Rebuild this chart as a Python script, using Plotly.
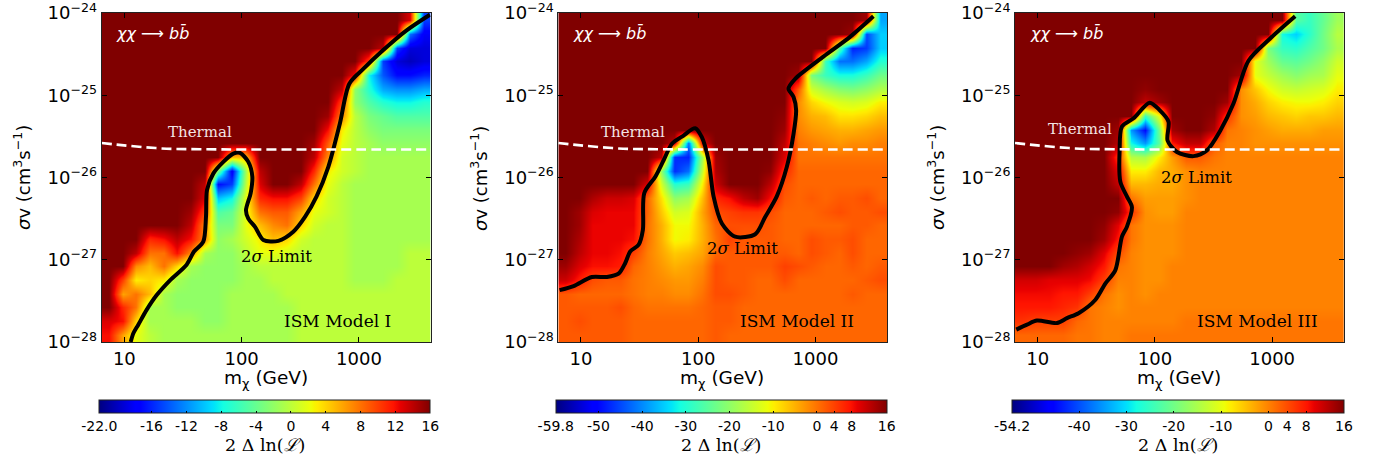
import numpy as np
import plotly.graph_objects as go

W, H = 1380, 461

log_mass = [.865,.982,1.099,1.215,1.332,1.449,1.566,1.683,1.799,1.916,2.033,2.150,
            2.267,2.383,2.500,2.617,2.734,2.851,2.967,3.084,3.201,3.318,3.435,3.551]
log_sv = [-24.08,-24.25,-24.42,-24.58,-24.75,-24.92,-25.08,-25.25,-25.42,-25.58,-25.75,-25.92,
          -26.08,-26.25,-26.42,-26.58,-26.75,-26.92,-27.08,-27.25,-27.42,-27.58,-27.75,-27.92]

z_model1 = [
 [16]*22+[13,-15],
 [16]*22+[-13,-18],
 [16]*20+[14,-15,-19,-19],
 [16]*19+[10,-15,-19,-20,-19],
 [16]*18+[12,-8,-14,-17,-17,-16],
 [16]*17+[14,-2,-7,-11,-12,-12,-11],
 [16]*17+[10,-2,-5,-7,-8,-8,-7],
 [16]*16+[15,7,0,-3,-4,-5,-5,-5],
 [16]*16+[12,3,0,-2,-3,-3,-3,-3],
 [16]*15+[15,9,2,0,-1,-2,-2,-2,-2],
 [16]*9+[5,5,16,16,16,16,14,7,1,0,-1,-1,-1,-1,-1],
 [16]*8+[-3,-18,-1,14,16,16,16,11,3,1,0,-1,-1,-1,-1,-1],
 [16]*7+[14,-17,-15,0,13,16,16,14,8,2,0,-1,-1,-1,-1,-1,-1],
 [16]*7+[13,-10,-8,2,11,12,12,10,4,1,0,-1,-1,-1,-1,-1,-1],
 [16]*6+[15,10,-5,-4,2,8,9,9,6,2,1,0,-1,-1,-1,-1,-1,-1],
 [16]*6+[14,7,-3,-3,2,5,7,8,4,1,0,0,-1,-1,-1,-1,-1,-1],
 [16,16,16,11,12,14,12,7,-2,-1,1,3,5,4,1,0,0,0,-1,-1,-1,-1,-1,-1],
 [16,16,14,8,8,12,7,-1,-2,-2,0,2,2,1,0,0,0,0,-1,-1,-1,-1,0,0],
 [16,16,7,5,8,4,-1,-2,-2,-2,-1,0,0,0,0,0,0,0,-1,-1,-1,-1,0,0],
 [16,10,3,4,3,-1,-2,-2,-2,-2,-1,-1,0,0,0,0,0,0,-1,-1,-1,0,0,0],
 [16,6,8,5,-1,-2,-2,-2,-2,-1,-1,-1,-1,0,0,0,0,0,0,0,0,0,0,0],
 [16,11,8,-1,-1,-2,-2,-2,-2,-1,-1,-1,-1,-1,0,0,0,0,0,0,0,0,0,0],
 [13,12,4,-1,-1,-1,-1,-2,-2,-1,-1,-1,-1,-1,0,0,0,0,0,0,0,0,0,0],
 [12,6,2,0,-1,-1,-1,-1,-1,-1,-1,-1,-1,-1,0,0,0,0,0,0,0,0,0,0],
]

z_model2 = [
 [16]*22+[14,-38],
 [16]*21+[14,-45,-35],
 [16]*20+[-25,-48,-46,-35],
 [16]*19+[-28,-42,-42,-38,-30],
 [16]*17+[14,-22,-28,-31,-31,-28,-23],
 [16]*17+[2,-14,-18,-21,-22,-20,-17],
 [16]*17+[-2,-8,-11,-13,-14,-13,-10],
 [16]*16+[15,-2,-5,-6,-9,-9,-8,-6],
 [16]*16+[14,-1,-3,-4,-5,-5,-4,-3],
 [16]*8+[12,-42,10,16,16,16,16,16,12,0,-1,-2,-3,-2,-2,-1],
 [16]*7+[12,-47,-48,-18,14,16,16,16,16,10,0,0,0,0,0,0,0],
 [16]*7+[-20,-47,-42,-15,13,16,16,16,15,6,1,1,1,1,1,1,1],
 [16]*6+[10,-14,-30,-28,-10,11,16,16,16,12,3,1,1,1,1,1,1,1],
 [16,16,13,11,11,10,1,-9,-20,-18,-6,6,8,12,14,8,2,1,2,1,2,2,3,1],
 [16,14,10,9,9,9,1,-7,-14,-13,-4,3,4,5,5,3,1,1,1,2,3,2,2,3],
 [16,14,9,9,9,9,0,-5,-11,-11,-5,1,3,3,3,2,1,1,1,1,1,2,2,1],
 [16,13,9,9,9,8,0,-5,-11,-10,-5,0,4,2,2,2,1,1,3,2,2,3,1,1],
 [16,12,9,9,8,4,-1,-4,-7,-6,-4,1,2,2,2,2,2,1,3,2,1,3,1,1],
 [14,10,8,8,7,1,-1,-3,-5,-4,-2,3,2,2,2,2,4,3,2,1,1,2,1,2],
 [11,7,3,2,2,0,-1,-2,-3,-3,-1,3,2,2,1,1,3,1,1,1,1,1,2,3],
 [2,1,1,1,1,0,-1,-1,-2,-2,0,3,3,2,1,1,1,1,1,1,1,2,1,1],
 [2,2,2,2,3,1,0,0,0,0,1,2,2,1,1,1,1,1,1,1,1,1,1,1],
 [2,3,2,2,2,1,1,1,1,1,1,2,2,1,1,1,1,1,1,1,1,1,1,1],
 [2,2,2,2,2,1,1,1,1,1,1,2,1,1,1,1,1,1,1,1,1,1,1,1],
]

z_model3 = [
 [16]*20+[-22,-25,-21,-16],
 [16]*19+[-28,-31,-26,-20,-14],
 [16]*18+[-19,-25,-26,-23,-20,-15],
 [16]*17+[-10,-16,-21,-22,-20,-17,-12],
 [16]*16+[14,-10,-13,-16,-18,-16,-15,-10],
 [16]*9+[15]+[16]*6+[-1,-5,-9,-12,-13,-12,-11,-8],
 [16]*9+[12,14,16,16,16,16,14,-1,-3,-6,-8,-9,-9,-8,-6],
 [16]*9+[-25,-10,16,16,16,15,6,-1,-2,-4,-5,-6,-5,-5,-4],
 [16]*7+[14,-35,-45,-20,14,16,16,13,1,0,-1,-2,-3,-3,-3,-2,-2],
 [16]*7+[13,-28,-35,-22,8,12,12,3,0,0,-1,-1,-1,-1,-1,-1,-1],
 [16]*7+[6,-14,-15,-8,-2,3,3,1,0,0,0,0,0,0,0,0,0],
 [16]*7+[10,-8,-8,-4,-3,-1,0,0,0,0,0,0,0,0,0,0,0],
 [16]*7+[12,-4,-4,-3,-3,-1,0,0,0,0,0,0,0,0,0,0,0],
 [16]*8+[1,-2,-2,-2,-1,0,0,0,0,0,0,0,0,0,0,0],
 [16]*7+[15,6,-1,-2,-2,0,0,0,0,0,0,0,0,0,0,0,0],
 [16]*6+[15,10,1,-1,-1,-1,0,0,0,0,0,0,0,0,0,0,0,0],
 [16]*6+[14,8,1,-1,-1,-1,0,0,0,0,0,0,0,0,0,0,0,0],
 [16,16,16,16,15,14,10,4,0,-1,-1,-1]+[0]*12,
 [16,16,16,14,13,11,8,1,0,-1,-1,0]+[0]*12,
 [11,11,10,10,10,9,5,0,0,-1,-1,0]+[0]*12,
 [9,9,9,8,8,5,1,-1,0,-1,0,0]+[0]*12,
 [8,8,8,7,6,1,0,-1,0,0,0,0]+[0]*12,
 [6,5,5,5,2,1,0,0,0,0,0,0]+[1]*12,
 [2,2,2,2,1,1,0,0,1,1,1,1]+[1]*12,
]

limit1_m = [1.054,1.077,1.119,1.19,1.276,1.389,1.531,1.594,1.673,1.696,1.705,1.759,1.844,1.929,1.986,2.057,2.091,2.077,2.037,2.057,2.114,2.185,2.313,2.44,2.54,2.639,2.739,2.838,2.918,3.037,3.207,3.406,3.605]
limit1_s = [-28.0,-27.895,-27.79,-27.61,-27.43,-27.25,-27.06,-26.90,-26.78,-26.48,-26.15,-25.95,-25.81,-25.71,-25.70,-25.81,-25.99,-26.19,-26.40,-26.50,-26.60,-26.76,-26.77,-26.66,-26.48,-26.23,-25.87,-25.34,-24.86,-24.68,-24.45,-24.21,-24.02]
limit2_m = [.818,.9375,1.094,1.222,1.321,1.378,1.42,1.491,1.528,1.54,1.634,1.705,1.776,1.875,1.974,2.031,2.088,2.131,2.202,2.315,2.486,2.571,2.67,2.756,2.813,2.835,2.813,2.77,2.827,3.068,3.295,3.494]
limit2_s = [-27.37,-27.32,-27.21,-27.21,-27.17,-27.04,-26.90,-26.82,-26.64,-26.19,-25.99,-25.79,-25.59,-25.49,-25.40,-25.51,-25.79,-26.23,-26.56,-26.72,-26.69,-26.48,-26.23,-25.87,-25.47,-25.18,-25.02,-24.92,-24.80,-24.53,-24.29,-24.04]
limit3_m = [.818,.909,.994,1.165,1.25,1.349,1.491,1.577,1.662,1.719,1.761,1.804,1.761,1.705,1.699,1.719,1.818,1.955,2.04,2.116,2.108,2.188,2.33,2.443,2.557,2.67,2.798,2.983,3.196]
limit3_s = [-27.85,-27.79,-27.74,-27.77,-27.71,-27.65,-27.49,-27.29,-27.13,-26.72,-26.60,-26.36,-26.23,-26.05,-25.67,-25.38,-25.28,-25.09,-25.18,-25.32,-25.55,-25.69,-25.74,-25.67,-25.43,-25.10,-24.58,-24.31,-24.04]

thermal_m = [.807,.93,1.08,1.36,1.65,2.0,2.5,3.0,3.61]
thermal_s = [-25.58,-25.60,-25.62,-25.65,-25.656,-25.66,-25.66,-25.66,-25.66]

x_ticks = [10, 100, 1000]
x_tick_labels = ["10", "100", "1000"]
y_ticks = [1e-28, 1e-27, 1e-26, 1e-25, 1e-24]
y_tick_labels = ["10<sup>−28</sup>", "10<sup>−27</sup>", "10<sup>−26</sup>", "10<sup>−25</sup>", "10<sup>−24</sup>"]

cb_ticks1 = [-22, -16, -12, -8, -4, 0, 4, 8, 12, 16]
cb_labels1 = ["-22.0", "-16", "-12", "-8", "-4", "0", "4", "8", "12", "16"]
cb_ticks2 = [-59.8, -50, -40, -30, -20, -10, 0, 4, 8, 16]
cb_labels2 = ["-59.8", "-50", "-40", "-30", "-20", "-10", "0", "4", "8", "16"]
cb_ticks3 = [-54.2, -40, -30, -20, -10, 0, 4, 8, 16]
cb_labels3 = ["-54.2", "-40", "-30", "-20", "-10", "0", "4", "8", "16"]
model_names = ["ISM Model I", "ISM Model II", "ISM Model III"]

JET = [[0, "rgb(0,0,128)"], [.11, "rgb(0,0,255)"], [.125, "rgb(0,0,255)"], [.34, "rgb(0,219,255)"],
       [.35, "rgb(0,230,247)"], [.375, "rgb(20,255,226)"], [.64, "rgb(238,255,8)"], [.65, "rgb(247,245,0)"],
       [.66, "rgb(255,236,0)"], [.89, "rgb(255,19,0)"], [.91, "rgb(232,0,0)"], [1, "rgb(128,0,0)"]]

panels = [
    dict(z=z_model1, zmin=-22, m=limit1_m, s=limit1_s, ticks=cb_ticks1, labels=cb_labels1,
         left=101.7, right=430.5, cb_left=99.3, ytitle=22, xmid=266,
         therm=(166, 132), lim=(239, 256), ism=282),
    dict(z=z_model2, zmin=-59.8, m=limit2_m, s=limit2_s, ticks=cb_ticks2, labels=cb_labels2,
         left=558.3, right=887, cb_left=555.7, ytitle=479, xmid=722,
         therm=(599, 132), lim=(705, 249), ism=738),
    dict(z=z_model3, zmin=-54.2, m=limit3_m, s=limit3_s, ticks=cb_ticks3, labels=cb_labels3,
         left=1015, right=1343.7, cb_left=1012, ytitle=936, xmid=1179,
         therm=(1046, 129), lim=(1159, 177), ism=1195),
]

for p in panels:
    assert len(p["z"]) == 24 and all(len(r) == 24 for r in p["z"]), [len(r) for r in p["z"]]
    assert len(p["m"]) == len(p["s"])

fig = go.Figure()
annotations = []
SANS = "DejaVu Sans"
SERIF = "DejaVu Serif"


def label(text, x, y, size, family, color="black", anchor="left", angle=0):
    annotations.append(dict(text=text, x=x / W, y=1 - y / H, xref="paper", yref="paper", showarrow=False,
                            xanchor=anchor, yanchor="middle", textangle=angle,
                            font=dict(size=size, family=family, color=color)))


layout = {}
for i, p in enumerate(panels):
    suffix = "" if i == 0 else str(i + 1)
    xname, yname = f"x{suffix}", f"y{suffix}"
    fig.add_trace(go.Heatmap(
        x=10 ** np.array(log_mass), y=10 ** np.array(log_sv), z=p["z"], zmin=p["zmin"], zmax=16,
        colorscale=JET, zsmooth="best", hoverinfo="skip", xaxis=xname, yaxis=yname,
        colorbar=dict(orientation="h", lenmode="pixels", len=p["right"] - p["cb_left"], thickness=13,
                      x=p["cb_left"] / W, xanchor="left", y=1 - 400 / H, yanchor="top", xpad=0, ypad=0,
                      tickvals=p["ticks"], ticktext=p["labels"], ticks="inside", ticklen=2, tickwidth=1,
                      tickcolor="black", outlinecolor="#222", outlinewidth=1,
                      tickfont=dict(size=14, family=SANS, color="black")),
    ))
    fig.add_trace(go.Scatter(x=10 ** np.array(p["m"]), y=10 ** np.array(p["s"]), mode="lines",
                             line=dict(color="black", width=4, shape="spline", smoothing=0.8),
                             hoverinfo="skip", showlegend=False, xaxis=xname, yaxis=yname))
    fig.add_trace(go.Scatter(x=10 ** np.array(thermal_m), y=10 ** np.array(thermal_s), mode="lines",
                             line=dict(color="white", width=2.6, dash="10px,5px", shape="spline"),
                             hoverinfo="skip", showlegend=False, xaxis=xname, yaxis=yname))
    common = dict(showgrid=False, zeroline=False, showline=True, mirror="ticks", linecolor="#222", linewidth=1,
                  ticks="inside", ticklen=5, tickwidth=1, tickcolor="black", type="log", ticklabeloverflow="allow",
                  tickfont=dict(size=18, family=SANS, color="black"))
    layout[f"xaxis{suffix}"] = dict(domain=[p["left"] / W, p["right"] / W], range=[.807, 3.61], anchor=yname,
                                    tickvals=x_ticks, ticktext=x_tick_labels, **common)
    layout[f"yaxis{suffix}"] = dict(domain=[1 - 342 / H, 1 - 13 / H], range=[-28.0005, -23.9995], anchor=xname,
                                    tickvals=y_ticks, ticktext=y_tick_labels, **common)
    label("m<sub>χ</sub> (GeV)", p["xmid"], 379, 18.5, SANS, anchor="center")
    label("<i>σ</i>v (cm<sup>3</sup>s<sup>−1</sup>)", p["ytitle"], 178, 18, SANS, anchor="center", angle=-90)
    label("2 Δ ln(<i>ℒ</i>)", p["xmid"] - 1, 445, 17.5, SERIF, anchor="center")
    label("<i>χχ ⟶ bb̄</i>", p["left"] + 12.5, 33, 16, SANS, color="white")
    label("Thermal", p["therm"][0], p["therm"][1], 15, SERIF, color="#f4e4e4")
    label("2<i>σ</i> Limit", p["lim"][0], p["lim"][1], 16.5, SERIF)
    label(model_names[i], p["ism"], 321, 17, SERIF)

fig.update_layout(width=W, height=H, margin=dict(l=0, r=0, t=0, b=0, autoexpand=False), paper_bgcolor="white",
                  plot_bgcolor="white", showlegend=False, annotations=annotations, **layout)
fig.write_html("out.html", config={"displayModeBar": False}, post_script="document.body.style.margin='0';")
